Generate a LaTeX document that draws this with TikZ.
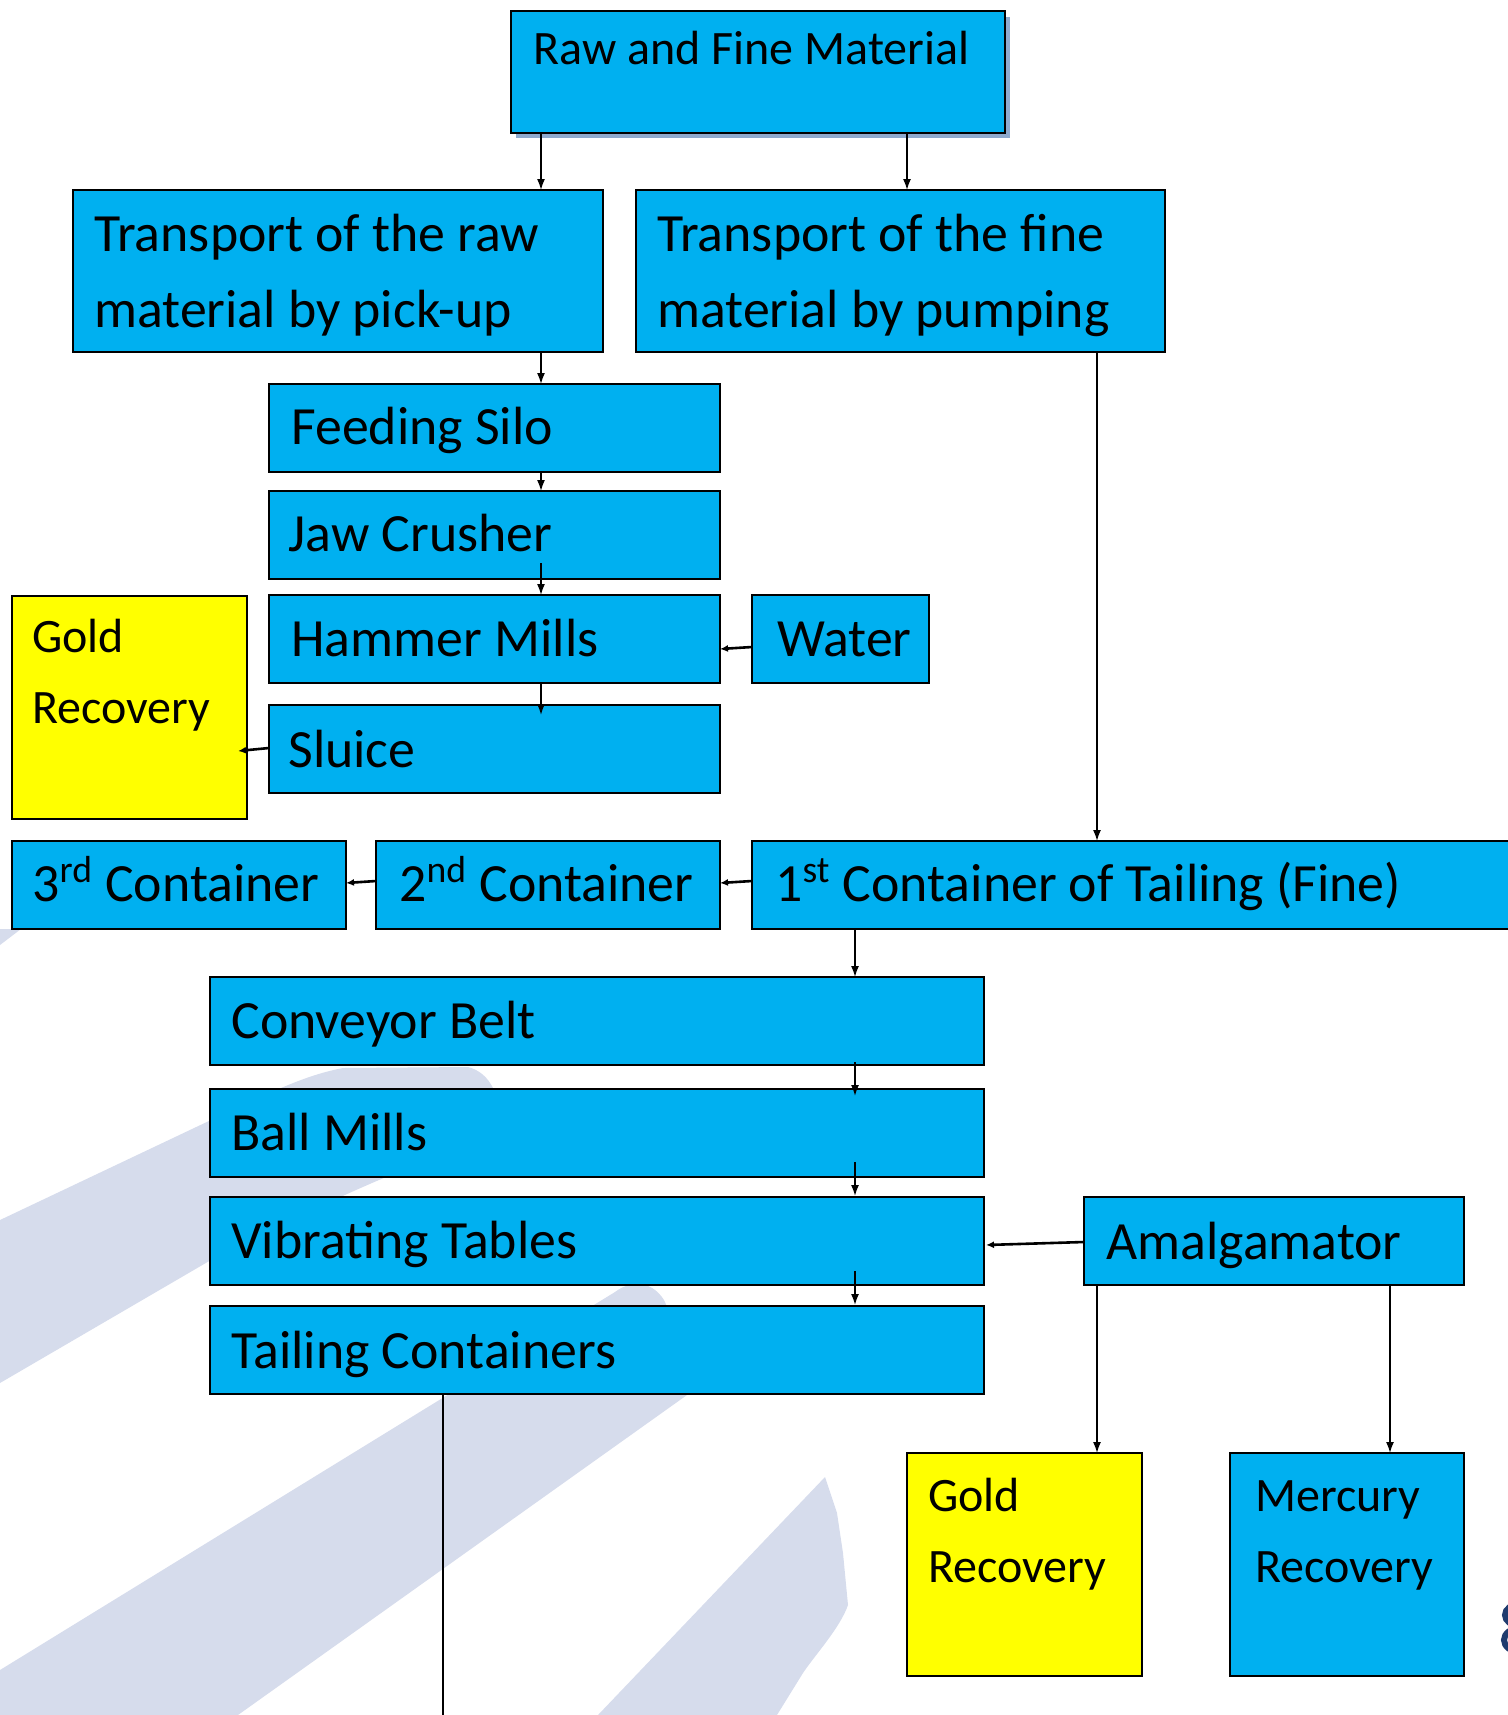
\documentclass[tikz,border=0pt]{standalone}
\usepackage{fontspec}
\setmainfont{Carlito}
\usetikzlibrary{arrows.meta,calc}
\definecolor{boxblue}{HTML}{00B0F0}
\definecolor{goldy}{HTML}{FFFF00}
\definecolor{wmark}{HTML}{D6DCEC}
\definecolor{shadowc}{HTML}{8EAACE}
\definecolor{navyc}{HTML}{1F3B6E}
\newcommand{\mybox}[6]{\node[#6, anchor=north west, minimum width={(#4-#2)*0.5pt}, minimum height={(#5-#3)*0.5pt}] (#1) at (#2,#3) {};}
\begin{document}
\begin{tikzpicture}[x=0.5pt,y=-0.5pt,
  blue box/.style={draw=black, line width=1.1pt, fill=boxblue, inner sep=0pt, outer sep=0pt},
  yellow box/.style={blue box, fill=goldy},
  big txt/.style={font=\fontsize{26.9}{32}\selectfont, anchor=base west, inner sep=0pt},
  mid txt/.style={font=\fontsize{24}{29}\selectfont, anchor=base west, inner sep=0pt},
  flow/.style={line width=0.8pt, -{Latex[length=5.5pt,width=4pt]}},
  side flow/.style={line width=1.3pt, -{Latex[length=4pt,width=3.5pt]}},
  plain line/.style={line width=0.8pt},
  mark band/.style={fill=wmark, draw=none}
]
\useasboundingbox (0,0) rectangle (1508,1715);
\clip (0,0) rectangle (1508,1715);

% watermark
\fill[mark band] (0,1220) -- (211,1120) .. controls (260,1098) and (300,1076) .. (343,1068)
  -- (468,1067) .. controls (480,1070) and (488,1078) .. (493,1088)
  .. controls (450,1125) and (420,1160) .. (386,1177)
  .. controls (320,1205) and (260,1235) .. (211,1260) -- (0,1383) -- cycle;
\fill[mark band] (0,1670) -- (615,1292) .. controls (628,1282) and (650,1278) .. (664,1300)
  .. controls (678,1330) and (686,1370) .. (687,1395) -- (238,1715) -- (0,1715) -- cycle;
\fill[mark band] (598,1715) -- (825,1477) -- (837,1513) -- (843,1553) -- (848,1605)
  .. controls (840,1628) and (815,1655) .. (803,1673) -- (777,1715) -- cycle;
\fill[mark band] (0,929) -- (21,929) -- (0,945) -- cycle;
% partial glyph at the right edge
\draw[navyc, line width=3pt] (1520,1615) ellipse [x radius=15, y radius=11];
\draw[navyc, line width=3pt] (1520,1640) ellipse [x radius=16, y radius=12];

% shadow of top box
\fill[shadowc] (516,17) rectangle (1010,138);

% boxes
\mybox{raw}{511}{11}{1005}{133}{blue box}
\mybox{rtr}{73}{190}{603}{352}{blue box}
\mybox{ftr}{636}{190}{1165}{352}{blue box}
\mybox{silo}{269}{384}{720}{472}{blue box}
\mybox{jaw}{269}{491}{720}{579}{blue box}
\mybox{hammer}{269}{595}{720}{683}{blue box}
\mybox{water}{752}{595}{929}{683}{blue box}
\mybox{sluice}{269}{705}{720}{793}{blue box}
\mybox{goldL}{12}{596}{247}{819}{yellow box}
\mybox{third}{12}{841}{346}{929}{blue box}
\mybox{second}{376}{841}{720}{929}{blue box}
\mybox{first}{752}{841}{1530}{929}{blue box}
\mybox{conv}{210}{977}{984}{1065}{blue box}
\mybox{ball}{210}{1089}{984}{1177}{blue box}
\mybox{vib}{210}{1197}{984}{1285}{blue box}
\mybox{tail}{210}{1306}{984}{1394}{blue box}
\mybox{amal}{1084}{1197}{1464}{1285}{blue box}
\mybox{goldB}{907}{1453}{1142}{1676}{yellow box}
\mybox{merc}{1230}{1453}{1464}{1676}{blue box}

% texts
\node[mid txt] (rawT) at (533,64) {Raw and Fine Material};
\node[big txt] (rtrA) at (94,251) {Transport of the raw};
\node[big txt] (rtrB) at (94,327) {material by pick-up};
\node[big txt] (ftrA) at (657,251) {Transport of the fine};
\node[big txt] (ftrB) at (657,327) {material by pumping};
\node[big txt] (siloT) at (291,444) {Feeding Silo};
\node[big txt] (jawT) at (288,551) {Jaw Crusher};
\node[big txt] (hammerT) at (291,656) {Hammer Mills};
\node[big txt] (waterT) at (777,656) {Water};
\node[big txt] (sluiceT) at (288,767) {Sluice};
\node[mid txt] (goldLA) at (32,652) {Gold};
\node[mid txt] (goldLB) at (32,723) {Recovery};
\node[big txt] (thirdT) at (32,901) {3\textsuperscript{rd} Container};
\node[big txt] (secondT) at (399,901) {2\textsuperscript{nd} Container};
\node[big txt] (firstT) at (775,901) {1\textsuperscript{st} Container of Tailing (Fine)};
\node[big txt] (convT) at (231,1038) {Conveyor Belt};
\node[big txt] (ballT) at (231,1150) {Ball Mills};
\node[big txt] (vibT) at (231,1258) {Vibrating Tables};
\node[big txt] (tailT) at (231,1368) {Tailing Containers};
\node[big txt] (amalT) at (1106,1259) {Amalgamator};
\node[mid txt] (goldBA) at (928,1511) {Gold};
\node[mid txt] (goldBB) at (928,1582) {Recovery};
\node[mid txt] (mercA) at (1255,1511) {Mercury};
\node[mid txt] (mercB) at (1255,1582) {Recovery};

% x positions of connectors
\coordinate (cA) at (541,0);
\coordinate (cB) at (907,0);
\coordinate (cC) at (1097,0);
\coordinate (cD) at (855,0);
\coordinate (cE) at (1390,0);
\coordinate (cF) at (443,0);
\coordinate (tailEnd) at (443,1720);

% connectors
\draw[flow] (raw.south -| cA) -- (rtr.north -| cA);
\draw[flow] (raw.south -| cB) -- (ftr.north -| cB);
\draw[flow] (rtr.south -| cA) -- (silo.north -| cA);
\draw[flow] (silo.south -| cA) -- (jaw.north -| cA);
\draw[flow] ($(jaw.south -| cA)+(0,-16)$) -- (hammer.north -| cA);
\draw[flow] (hammer.south -| cA) -- ($(sluice.north -| cA)+(0,10)$);
\draw[side flow] ($(water.west)+(0,8)$) -- ($(hammer.east)+(0,10)$);
\draw[side flow] ($(sluice.west)+(0,-1)$) -- ($(goldL.east |- sluice.west)+(-9,2)$);
\draw[flow] (ftr.south -| cC) -- (first.north -| cC);
\draw[side flow] ($(first.west)+(0,-4)$) -- ($(second.east)+(0,-2)$);
\draw[side flow] ($(second.west)+(0,-4)$) -- ($(third.east)+(0,-2)$);
\draw[flow] (first.south -| cD) -- (conv.north -| cD);
\draw[flow] ($(conv.south -| cD)+(0,-3)$) -- ($(ball.north -| cD)+(0,7)$);
\draw[flow] ($(ball.south -| cD)+(0,-15)$) -- ($(vib.north -| cD)+(0,-1)$);
\draw[flow] ($(vib.south -| cD)+(0,-14)$) -- ($(tail.north -| cD)+(0,-1)$);
\draw[side flow] ($(amal.west)+(0,1)$) -- ($(vib.east)+(2,4)$);
\draw[flow] (amal.south -| cC) -- (goldB.north -| cC);
\draw[flow] (amal.south -| cE) -- (merc.north -| cE);
\draw[plain line] (tail.south -| cF) -- (tailEnd);
\end{tikzpicture}
\end{document}
